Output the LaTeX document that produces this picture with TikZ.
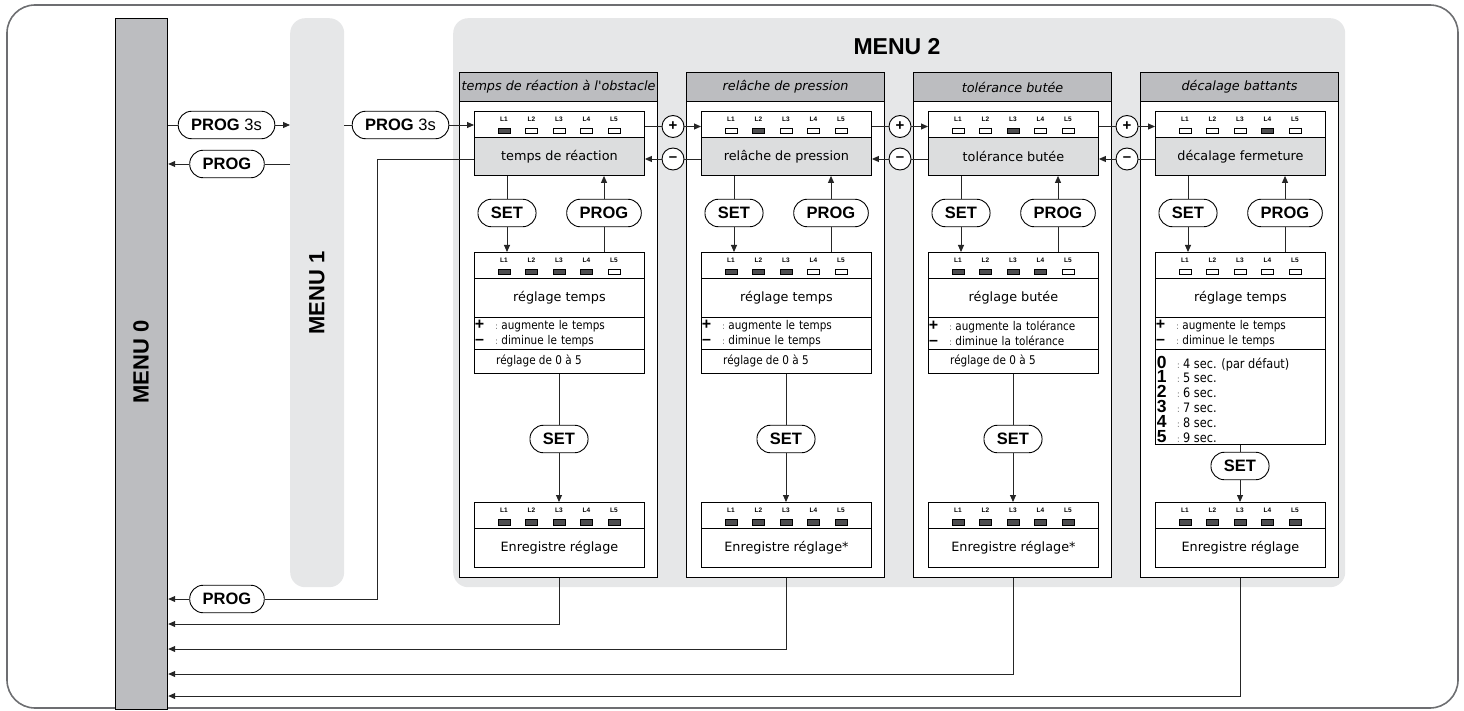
\documentclass[tikz,border=0pt]{standalone}
\usepackage{fontspec}
\setmainfont{Liberation Sans}
\newfontfamily\boxfont{DejaVu Sans}
\newfontfamily\condfont[FakeStretch=0.87]{DejaVu Sans}
\usetikzlibrary{arrows.meta, positioning, calc}

\definecolor{menugray}{HTML}{BCBDC0}
\definecolor{panelgray}{HTML}{E6E7E8}
\definecolor{bandgray}{HTML}{DCDDDE}
\definecolor{ledon}{HTML}{4D4D4F}
\definecolor{framegray}{HTML}{6D6E71}

% row of five leds: name, left x, top y, first lit, last lit
\newcommand\ledstrip[5]{%
  \foreach \k in {1,...,5}{%
    \ifnum\k<#4\def\ledfill{white}\else\ifnum\k>#5\def\ledfill{white}\else\def\ledfill{ledon}\fi\fi
    \node[ledtag] (#1-L\k) at ({#2+30+27.5*(\k-1)},#3+8) {L\k};
    \node[led, fill=\ledfill] (#1-d\k) at ({#2+30+27.5*(\k-1)},#3+20) {};
  }}
\newcommand\pmsign[1]{\makebox[10pt][c]{\rmfamily\bfseries\fontsize{16}{14}\selectfont #1}}
\newcommand\bigdigit[1]{\makebox[11pt][c]{\rmfamily\bfseries\fontsize{17.5}{14}\selectfont #1}}
\newcommand\keysep[1]{\makebox[#1][r]{\textcolor{black!60}{\fontsize{9}{9}\selectfont:}\hspace{3.5pt}}}

\tikzset{
  panel/.style={fill=panelgray, rounded corners=15pt, anchor=north west, inner sep=0pt},
  menutxt/.style={font=\bfseries\fontsize{22}{22}\selectfont, inner sep=0pt},
  colbox/.style={draw=black, line width=1.3pt, fill=white, anchor=north west, inner sep=0pt,
    minimum width=198pt, minimum height=505pt},
  hdrbox/.style={draw=black, line width=1.1pt, fill=menugray, anchor=north west, inner sep=0pt,
    minimum width=198pt, minimum height=29pt, font=\boxfont\itshape\fontsize{12.8}{14}\selectfont},
  innerbox/.style={draw=black, line width=0.9pt, fill=white, anchor=north west, inner sep=0pt,
    minimum width=170pt, font=\boxfont\fontsize{12.8}{14}\selectfont},
  ledbox/.style={innerbox, minimum height=26pt},
  bandbox/.style={innerbox, fill=bandgray, minimum height=38pt},
  ledtag/.style={font=\bfseries\fontsize{6.5}{6.5}\selectfont, inner sep=0pt},
  led/.style={draw=black, line width=0.5pt, minimum width=12pt, minimum height=5.5pt, inner sep=0pt},
  pill/.style={draw=black, line width=0.9pt, fill=white, rounded corners=13.5pt, minimum height=27.5pt,
    inner xsep=13pt, inner ysep=0pt, font=\bfseries\fontsize{16.5}{16}\selectfont},
  pmbtn/.style={circle, draw=black, line width=0.9pt, fill=white, minimum size=22pt, inner sep=0pt,
    font=\bfseries\fontsize{15}{15}\selectfont},
  smalltxt/.style={font=\condfont\fontsize{12}{15.5}\selectfont, inner sep=0pt},
  conn/.style={draw=black!85, line width=0.9pt},
  arr/.style={conn, -{Triangle[length=7pt, width=6pt]}}
}

\begin{document}
\begin{tikzpicture}[x=1pt, y=-1pt]
  \useasboundingbox (0,0) rectangle (1464,711);
  \draw[framegray, line width=1.6pt, rounded corners=28pt] (7,5) rectangle (1458,708);

  % menus
  \node[draw=black, line width=1.2pt, fill=menugray, anchor=north west, inner sep=0pt,
    minimum width=52pt, minimum height=691pt] (m0) at (115,18) {};
  \node[menutxt, rotate=90] (m0lab) at (141,362) {MENU 0};
  \node[panel, minimum width=54pt, minimum height=569pt] (m1) at (290,18) {};
  \node[menutxt, rotate=90] (m1lab) at (317,293) {MENU 1};
  \node[panel, minimum width=892pt, minimum height=569pt] (m2) at (453,18) {};
  \node[menutxt, font=\bfseries\fontsize{23}{23}\selectfont] (m2lab) at (897,47) {MENU 2};

  % the four parameter columns
  \foreach \i/\x/\head/\band/\lbl/\plustxt/\minustxt/\lit/\srh/\sby/\savetxt/\yr in {
    1/459/{temps de réaction à l'obstacle}/{temps de réaction}/{réglage temps}/{augmente le temps}/{diminue le temps}/4/24/439/{Enregistre réglage}/624,
    2/686/{relâche de pression}/{relâche de pression}/{réglage temps}/{augmente le temps}/{diminue le temps}/3/24/439/{Enregistre réglage*}/649,
    3/913/{tolérance butée}/{tolérance butée}/{réglage butée}/{augmente la tolérance}/{diminue la tolérance}/4/24/439/{Enregistre réglage*}/674,
    4/1140/{décalage battants}/{décalage fermeture}/{réglage temps}/{augmente le temps}/{diminue le temps}/0/95/466/{Enregistre réglage}/696}{
    \node[colbox] (c\i) at (\x,72) {};
    \node[hdrbox] (h\i) at (\x,72) {\head};
    \node[ledbox] (tl\i) at (\x+15,111) {};
    \node[bandbox] (tb\i) at (\x+15,137) {\band};
    \ledstrip{tl\i}{\x+15}{111}{\i}{\i}
    \node[pill] (sa\i) at (\x+48,213) {SET};
    \node[pill] (pa\i) at (\x+145,213) {PROG};
    \node[ledbox] (s\i) at (\x+15,252) {};
    \ledstrip{s\i}{\x+15}{252}{1}{\lit}
    \node[innerbox, minimum height=39pt] (sl\i) at (\x+15,278) {\lbl};
    \node[innerbox, minimum height=32pt, text width=170pt, align=left, font=\condfont\fontsize{12}{15.5}\selectfont]
      (sp\i) at (\x+15,317) {\pmsign{+}\keysep{17pt}\plustxt\\\pmsign{–}\keysep{17pt}\minustxt};
    \node[innerbox, minimum height=\srh pt] (sr\i) at (\x+15,349) {};
    \node[pill] (sb\i) at (\x+100,\sby) {SET};
    \node[ledbox] (e\i) at (\x+15,502) {};
    \ledstrip{e\i}{\x+15}{502}{1}{5}
    \node[innerbox, minimum height=39pt] (el\i) at (\x+15,528) {\savetxt};
    \coordinate (r\i) at (0,\yr);
    \draw[conn] (sa\i |- tb\i.south) -- (sa\i.north);
    \draw[arr] (sa\i.south) -- (sa\i |- s\i.north);
    \draw[conn] (pa\i |- s\i.north) -- (pa\i.south);
    \draw[arr] (pa\i.north) -- (pa\i |- tb\i.south);
    \draw[conn] (sb\i |- sr\i.south) -- (sb\i.north);
    \draw[arr] (sb\i.south) -- (sb\i |- e\i.north);
    \draw[arr] (el\i.south |- c\i.south) |- (m0.east |- r\i);
  }
  \foreach \i/\x in {1/459,2/686,3/913}{
    \node[smalltxt, anchor=west] (rg\i) at (\x+37,361) {réglage de 0 à 5};
  }
  \node[smalltxt, anchor=west, align=left, font=\condfont\fontsize{13}{14.8}\selectfont] (lst4) at (1156,399)
    {\bigdigit{0}\keysep{16pt}4 sec. (par défaut)\\
     \bigdigit{1}\keysep{16pt}5 sec.\\
     \bigdigit{2}\keysep{16pt}6 sec.\\
     \bigdigit{3}\keysep{16pt}7 sec.\\
     \bigdigit{4}\keysep{16pt}8 sec.\\
     \bigdigit{5}\keysep{16pt}9 sec.};

  % + / - between columns
  \foreach \i/\j/\x in {1/2/459,2/3/686,3/4/913}{
    \node[pmbtn] (plus\i) at (\x+214,126.5) {+};
    \node[pmbtn] (minus\i) at (\x+214,159) {–};
    \draw[conn] (plus\i -| tl\i.east) -- (plus\i.west);
    \draw[arr] (plus\i.east) -- (plus\i -| tl\j.west);
    \draw[conn] (minus\i -| tb\j.west) -- (minus\i.east);
    \draw[arr] (minus\i.west) -- (minus\i -| tb\i.east);
  }

  % menu changes
  \node[pill] (pg3a) at (226.5,125) {PROG \mdseries 3s};
  \node[pill] (pg3b) at (400.5,125) {PROG \mdseries 3s};
  \node[pill] (pgb) at (227,164) {PROG};
  \node[pill] (pgc) at (227,599) {PROG};
  \draw[conn] (m0.east |- pg3a) -- (pg3a.west);
  \draw[arr] (pg3a.east) -- (pg3a -| m1.west);
  \draw[conn] (pg3b -| m1.east) -- (pg3b.west);
  \draw[arr] (pg3b.east) -- (pg3b -| tl1.west);
  \draw[conn] (pgb -| m1.west) -- (pgb.east);
  \draw[arr] (pgb.west) -- (pgb -| m0.east);
  \coordinate (bend) at (377,159);
  \draw[conn] (bend -| tb1.west) -- (bend) |- (pgc.east);
  \draw[arr] (pgc.west) -- (pgc -| m0.east);
\end{tikzpicture}
\end{document}
